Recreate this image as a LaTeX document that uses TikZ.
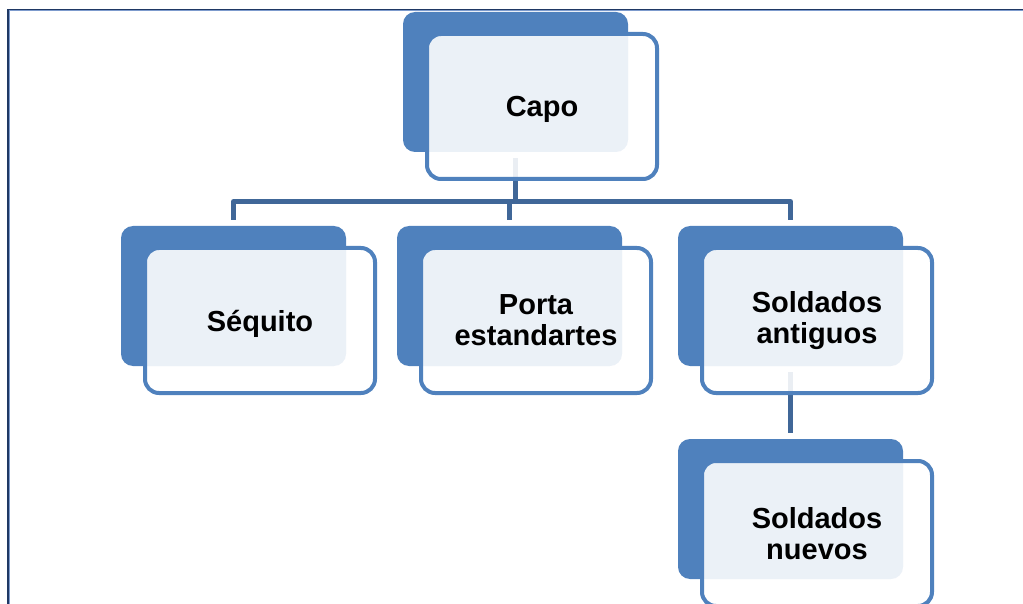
\documentclass[tikz,border=0pt]{standalone}
\usepackage{fontspec}
\setmainfont{Liberation Sans}
\definecolor{sablue}{HTML}{4F81BD}
\definecolor{conncol}{RGB}{64,103,152}
\definecolor{frdark}{RGB}{31,56,100}
\definecolor{frlight}{RGB}{125,155,205}
\begin{document}
\begin{tikzpicture}[x=1pt,y=-1pt,
  backbox/.style={fill=sablue, rounded corners=12pt, minimum width=225pt, minimum height=140pt, inner sep=0pt, draw=none},
  frontbox/.style={draw=sablue, line width=4pt, fill=white, fill opacity=0.89, text opacity=1, rounded corners=14pt, minimum width=230pt, minimum height=145pt, inner sep=0pt, align=center, font=\fontsize{29}{31}\selectfont\bfseries},
  oneline/.style={text depth=0pt},
  conn/.style={draw=conncol, line width=5pt, line join=round},
  framedark/.style={draw=frdark, line width=1.5pt},
  framelight/.style={draw=frlight, line width=1pt}]
\useasboundingbox (0,0) rectangle (1023,604);
\clip (0,0) rectangle (1023,604);
% page frame
\coordinate (ftl) at (8,9.5);
\coordinate (ftr) at (1023,9.5);
\coordinate (fbl) at (8,604);
\draw[framedark] (fbl) -- (ftl) -- (ftr);
\draw[framelight] ([xshift=1.3pt]fbl) -- ([xshift=1.3pt,yshift=-1.1pt]ftl) -- ([yshift=-1.1pt]ftr);
% back boxes
\node[backbox] (capoB) at (515.5,82) {};
\node[backbox] (sequitoB) at (233.5,296) {};
\node[backbox] (portaB) at (509.5,296) {};
\node[backbox] (antiguosB) at (790.5,296) {};
\node[backbox] (nuevosB) at (790.5,509) {};
% connectors
\coordinate (bus) at (0,201.5);
\draw[conn] ([yshift=-6pt]capoB.south) -- (capoB.south |- bus);
\draw[conn] ([yshift=6pt]sequitoB.north) -- (sequitoB.north |- bus) -- (antiguosB.north |- bus) -- ([yshift=6pt]antiguosB.north);
\draw[conn] ([yshift=6pt]portaB.north) -- (portaB.north |- bus);
\draw[conn] ([yshift=-6pt]antiguosB.south) -- ([yshift=6pt]nuevosB.north);
% front boxes
\node[frontbox, oneline] (capo) at (542,106.5) {Capo};
\node[frontbox, oneline] (sequito) at (260,320.5) {Séquito};
\node[frontbox] (porta) at (536,320.5) {Porta\\estandartes};
\node[frontbox] (antiguos) at (817,320.5) {Soldados\\antiguos};
\node[frontbox] (nuevos) at (817,533.5) {Soldados\\nuevos};
\end{tikzpicture}
\end{document}
